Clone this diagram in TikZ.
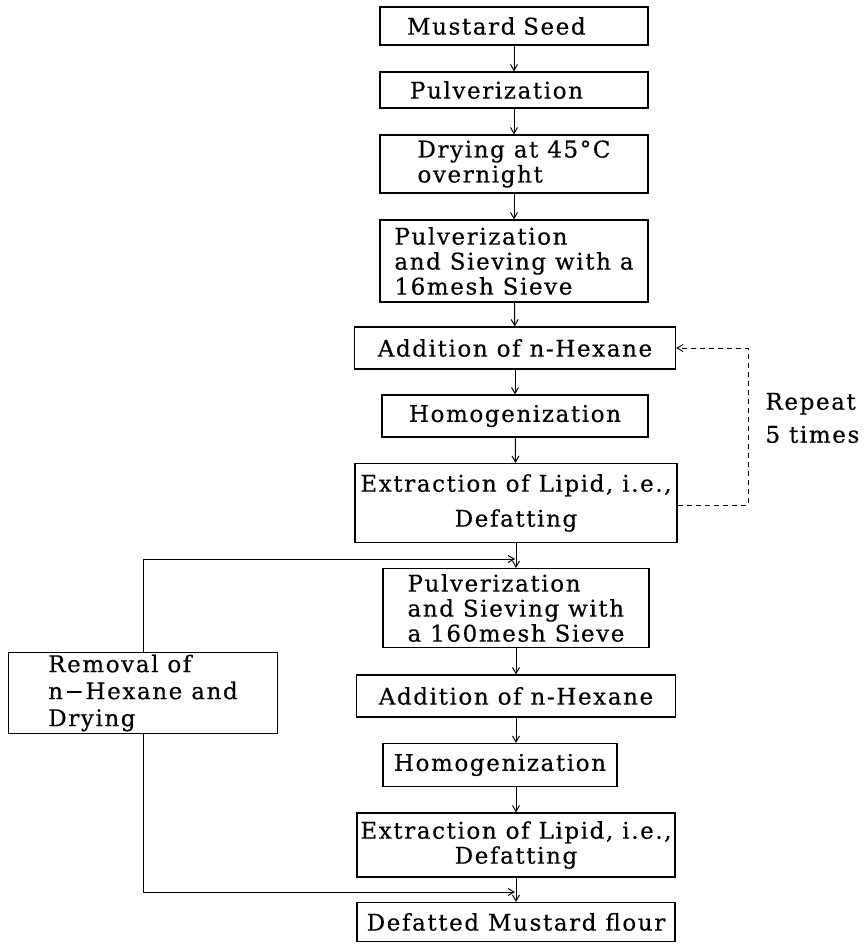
\documentclass[tikz,border=0pt]{standalone}
\usepackage{fontspec}
\setmainfont[LetterSpace=7,FakeBold=0.4]{DejaVu Serif}
\usetikzlibrary{arrows.meta}
\begin{document}
\begin{tikzpicture}[
	x=1pt, y=-1pt,
	font=\fontsize{23}{25}\selectfont,
	box/.style={ draw, line width=1.2pt, align=left, inner sep=2pt },
	arr/.style={ line width=1pt, -{Straight Barb[length=6pt,width=7pt]} },
	loopline/.style={ line width=1pt, dashed, dash pattern=on 5pt off 4pt, -{Straight Barb[length=6pt,width=7pt]} }
]
\useasboundingbox (0,0) rectangle (864,944);

\node[box, inner xsep=27, text width=214, minimum height=38] at (514,26) (seed) {Mustard Seed};
\node[box, inner xsep=30, text width=208, minimum height=36] at (514,90) (pulv1) {Pulverization};
\node[box, minimum width=268, minimum height=58] at (514,164) (dry) {Drying at 45°C\\overnight};
\node[box, minimum width=268, minimum height=82] at (514,261) (sieve16) {Pulverization\\and Sieving with a\\16mesh Sieve};
\node[box, minimum width=321, minimum height=42] at (515,348) (hex1) {Addition of n-Hexane};
\node[box, minimum width=266, minimum height=42] at (515,416) (homo1) {Homogenization};
\node[box, minimum width=322, minimum height=79, align=center] at (516,503) (extr1) {Extraction of Lipid, i.e.,\\[10pt]Defatting};
\node[box, minimum width=266, minimum height=79] at (516,608) (sieve160) {Pulverization\\and Sieving with\\a 160mesh Sieve};
\node[box, minimum width=319, minimum height=42] at (516,696) (hex2) {Addition of n-Hexane};
\node[box, minimum width=234, minimum height=43] at (500,765) (homo2) {Homogenization};
\node[box, minimum width=318, minimum height=64, align=center] at (516,845) (extr2) {Extraction of Lipid, i.e.,\\Defatting};
\node[box, minimum width=318, minimum height=39] at (516,922) (flour) {Defatted Mustard flour};
\node[box, minimum width=269, minimum height=79] at (143,693) (removal) {Removal of\\[2pt]n−Hexane and\\[2pt]Drying};
\node[align=left, anchor=west] at (762,418) (repeat) {Repeat\\[8pt]5 times};

\coordinate (top) at (515,559);
\coordinate (bot) at (515,892);
\coordinate (loop) at (748,505);

\draw[arr] (seed) to (pulv1);
\draw[arr] (pulv1) to (dry);
\draw[arr] (dry) to (sieve16);
\draw[arr] (sieve16) to (hex1);
\draw[arr] (hex1) to (homo1);
\draw[arr] (homo1) to (extr1);
\draw[arr] (extr1) to (sieve160);
\draw[arr] (sieve160) to (hex2);
\draw[arr] (hex2.south) to (hex2.south |- homo2.north);
\draw[arr] (hex2.south |- homo2.south) to (extr2.north);
\draw[arr] (extr2) to (flour);
\draw[arr] (removal.north) |- (top);
\draw[arr] (removal.south) |- (bot);
\draw[loopline] (extr1.east |- loop) to (loop) |- (hex1.east);

\end{tikzpicture}
\end{document}
